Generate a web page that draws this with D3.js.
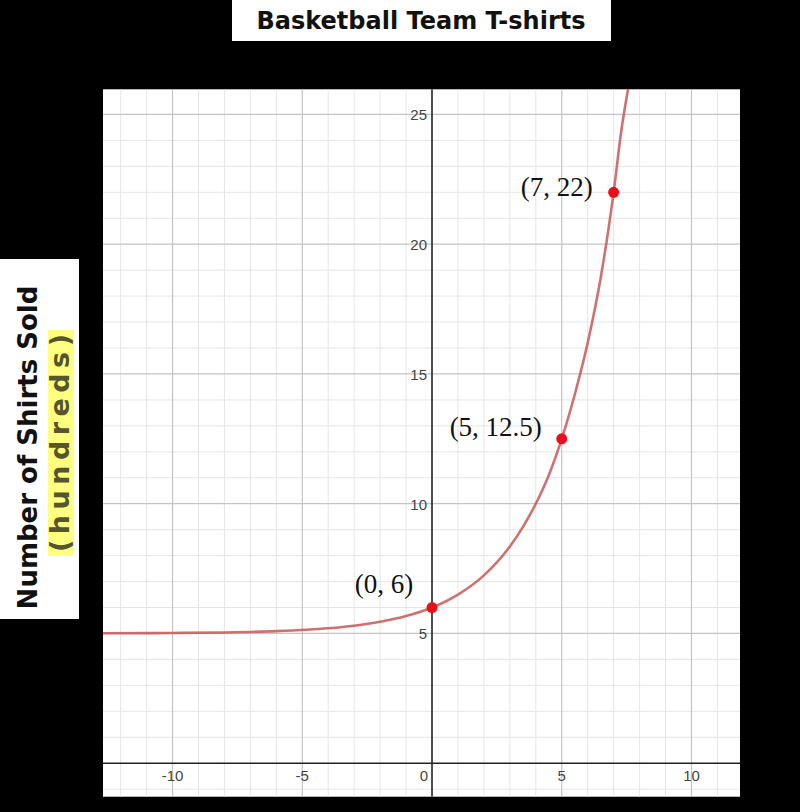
<!DOCTYPE html>
<html>
<head>
<meta charset="utf-8">
<script src="https://cdn.jsdelivr.net/npm/d3@7"></script>
<style>
  html, body { margin: 0; padding: 0; background: #000; }
  svg { display: block; }
</style>
</head>
<body>
<svg id="chart" width="800" height="812"></svg>
<script>
// ---- data ----
const title = "Basketball Team T-shirts";
const yTitle = "Number of Shirts Sold";
const yUnit = "(hundreds)";
const xTicks = [-10, -5, 0, 5, 10];
const yTicks = [5, 10, 15, 20, 25];
// sampled points along the drawn curve (estimated)
const curveX = [-12.7, -10, -8, -6, -4, -3, -2, -1, 0, 1, 2, 3, 3.5, 4, 4.5, 5, 5.5, 6, 6.5, 7, 7.3, 7.56];
const curveY = [5.01, 5.02, 5.04, 5.09, 5.2, 5.3, 5.45, 5.67, 6.0, 6.5, 7.24, 8.35, 9.1, 10.0, 11.1, 12.5, 14.2, 16.2, 18.7, 22.0, 24.4, 26.0];
// highlighted points
const ptX = [0, 5, 7];
const ptY = [6, 12.5, 22];
const ptLabel = ["(0, 6)", "(5, 12.5)", "(7, 22)"];

// ---- layout ----
const svg = d3.select("#chart");
const L = 103, R = 740, T = 89.3, B = 796.7;
const x = d3.scaleLinear().domain([-12.68, 11.87]).range([L, R]);
const y = d3.scaleLinear().domain([-1.29, 25.97]).range([B, T]);

// title box
svg.append("rect").attr("x", 232).attr("y", 0).attr("width", 379).attr("height", 41).attr("fill", "#fff");
svg.append("text").attr("x", 421).attr("y", 29).attr("text-anchor", "middle")
  .attr("font-family", "DejaVu Sans").attr("font-weight", "bold").attr("font-size", 24)
  .attr("fill", "#111").text(title);

// y label box
svg.append("rect").attr("x", 0).attr("y", 259).attr("width", 79).attr("height", 360).attr("fill", "#fff");
svg.append("rect").attr("x", 48).attr("y", 330).attr("width", 26).attr("height", 226).attr("fill", "#ffff80");
svg.append("text").attr("transform", "translate(37,447.5) rotate(-90)").attr("text-anchor", "middle")
  .attr("font-family", "DejaVu Sans").attr("font-weight", "bold").attr("font-size", 26)
  .attr("fill", "#111").text(yTitle);
svg.append("text").attr("transform", "translate(69,443) rotate(-90)").attr("text-anchor", "middle")
  .attr("font-family", "DejaVu Sans").attr("font-weight", "bold").attr("font-size", 27)
  .attr("textLength", 218).attr("lengthAdjust", "spacing")
  .attr("fill", "#55552f").text(yUnit);

// plot background
svg.append("rect").attr("x", L).attr("y", T).attr("width", R - L).attr("height", B - T).attr("fill", "#fff");

const g = svg.append("g");
const clip = svg.append("clipPath").attr("id", "plotclip");
clip.append("rect").attr("x", L).attr("y", T).attr("width", R - L).attr("height", B - T);
g.attr("clip-path", "url(#plotclip)");

// grid
const minorX = d3.range(Math.ceil(x.domain()[0]), Math.floor(x.domain()[1]) + 1);
const minorY = d3.range(Math.ceil(y.domain()[0]), Math.floor(y.domain()[1]) + 1);
g.selectAll(".mx").data(minorX.filter(v => v % 5 !== 0)).join("line")
  .attr("x1", d => x(d)).attr("x2", d => x(d)).attr("y1", T).attr("y2", B)
  .attr("stroke", "#e6e6e6").attr("stroke-width", 1);
g.selectAll(".my").data(minorY.filter(v => v % 5 !== 0)).join("line")
  .attr("y1", d => y(d)).attr("y2", d => y(d)).attr("x1", L).attr("x2", R)
  .attr("stroke", "#e6e6e6").attr("stroke-width", 1);
g.selectAll(".Mx").data(minorX.filter(v => v % 5 === 0 && v !== 0)).join("line")
  .attr("x1", d => x(d)).attr("x2", d => x(d)).attr("y1", T).attr("y2", B)
  .attr("stroke", "#c4c4c4").attr("stroke-width", 1.2);
g.selectAll(".My").data(minorY.filter(v => v % 5 === 0 && v !== 0)).join("line")
  .attr("y1", d => y(d)).attr("y2", d => y(d)).attr("x1", L).attr("x2", R)
  .attr("stroke", "#c4c4c4").attr("stroke-width", 1.2);

// axes
g.append("line").attr("x1", L).attr("x2", R).attr("y1", y(0)).attr("y2", y(0)).attr("stroke", "#222").attr("stroke-width", 1.6);
g.append("line").attr("x1", x(0)).attr("x2", x(0)).attr("y1", T).attr("y2", B).attr("stroke", "#222").attr("stroke-width", 1.6);

// tick labels
svg.selectAll(".xt").data(xTicks).join("text")
  .attr("x", d => d === 0 ? x(0) - 4 : x(d))
  .attr("y", y(0) + 18)
  .attr("text-anchor", d => d === 0 ? "end" : "middle")
  .attr("font-family", "Liberation Sans, Arial").attr("font-size", 15).attr("fill", "#444")
  .text(d => d < 0 ? "-" + Math.abs(d) : d);
svg.selectAll(".yt").data(yTicks).join("text")
  .attr("x", x(0) - 5).attr("y", d => y(d) + 6)
  .attr("text-anchor", "end")
  .attr("font-family", "Liberation Sans, Arial").attr("font-size", 15).attr("fill", "#444")
  .text(d => d);

// curve
const pts = curveX.map((v, i) => [v, curveY[i]]);
const line = d3.line().x(d => x(d[0])).y(d => y(d[1])).curve(d3.curveMonotoneX);
g.append("path").attr("d", line(pts)).attr("fill", "none")
  .attr("stroke", "#c85858").attr("stroke-opacity", 0.85).attr("stroke-width", 2.6);

// points
g.selectAll(".pt").data(ptX).join("circle")
  .attr("cx", d => x(d)).attr("cy", (d, i) => y(ptY[i])).attr("r", 5.5)
  .attr("fill", "#e8101c");

// point labels (offset from each point, px)
const labOff = [[-48, -15], [-66, -3], [-57, 4]];
svg.selectAll(".pl").data(ptLabel).join("text")
  .attr("x", (d, i) => x(ptX[i]) + labOff[i][0])
  .attr("y", (d, i) => y(ptY[i]) + labOff[i][1])
  .attr("text-anchor", "middle")
  .attr("font-family", "Liberation Serif, DejaVu Serif, serif").attr("font-size", 27)
  .attr("fill", "#111")
  .text(d => d);
</script>
</body>
</html>
